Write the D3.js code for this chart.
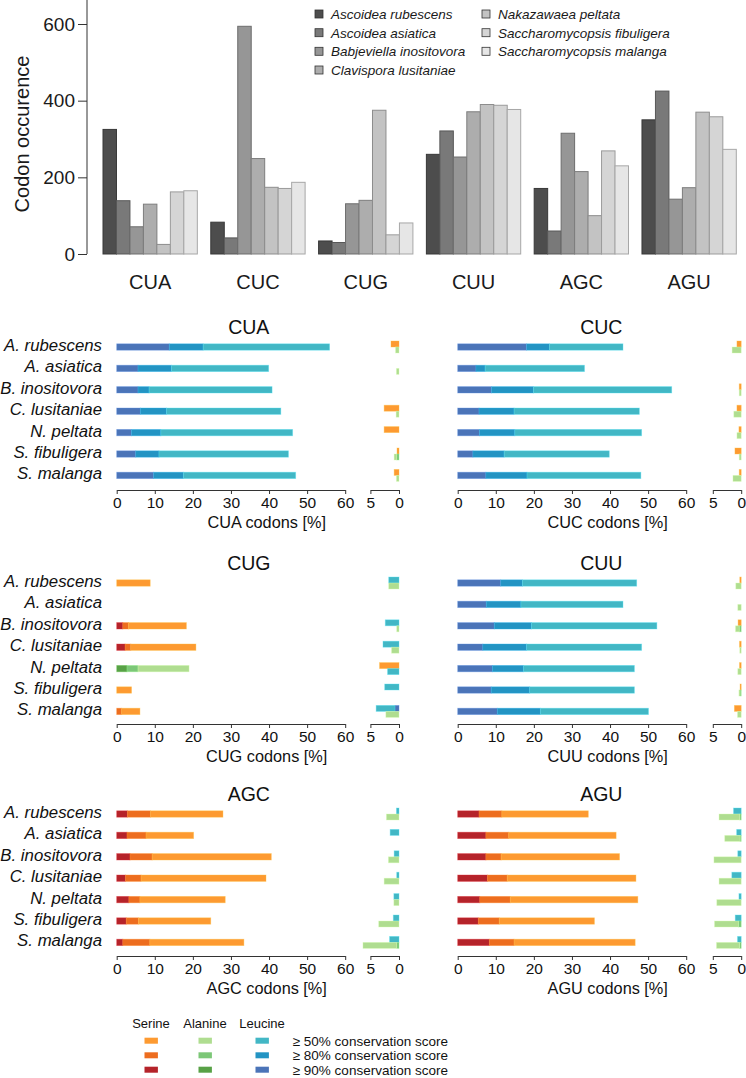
<!DOCTYPE html>
<html>
<head>
<meta charset="utf-8">
<script src="https://cdn.jsdelivr.net/npm/d3@7"></script>
<style>
  html, body { margin: 0; padding: 0; background: #fff; }
  svg { display: block; font-family: "Liberation Sans", Arial, sans-serif; }
</style>
</head>
<body>
<svg id="chart" width="746" height="1078"></svg>
<script>
// ---------------- DATA ----------------
const codons = ["CUA", "CUC", "CUG", "CUU", "AGC", "AGU"];
const speciesFull = ["Ascoidea rubescens", "Ascoidea asiatica", "Babjeviella inositovora",
  "Clavispora lusitaniae", "Nakazawaea peltata", "Saccharomycopsis fibuligera", "Saccharomycopsis malanga"];
const speciesShort = ["A. rubescens", "A. asiatica", "B. inositovora", "C. lusitaniae",
  "N. peltata", "S. fibuligera", "S. malanga"];
const yTicks = [0, 200, 400, 600];

// codon occurrence per species (order of codons)
const occRubescens   = [325,  83,  34, 260, 171, 350];
const occAsiatica    = [139,  42,  30, 321,  60, 425];
const occInositovora = [ 71, 594, 131, 253, 315, 143];
const occLusitaniae  = [130, 249, 140, 371, 215, 173];
const occPeltata     = [ 25, 174, 375, 390, 100, 370];
const occFibuligera  = [162, 171,  50, 388, 269, 358];
const occMalanga     = [165, 187,  81, 377, 230, 273];
const occurrence = [occRubescens, occAsiatica, occInositovora, occLusitaniae, occPeltata, occFibuligera, occMalanga];
const grayFills = ["#4d4d4d", "#797979", "#969696", "#adadad", "#c3c3c3", "#d5d5d5", "#e6e6e6"];

// conservation: each entry [>=90%, >=80%, >=50%] (cumulative % of codons)
const mainAA_CUA = ["Leu","Leu","Leu","Leu","Leu","Leu","Leu"];
const main_CUA = [[13.8,22.7,55.9],[5.6,14.4,39.9],[5.6,8.5,40.8],[6.2,13.1,43.1],[3.9,11.6,46.2],[5.0,11.1,45.1],[9.7,17.5,47.0]];
const top_CUA  = [[0,0,1.4],[0,0,0],[0,0,0],[0,0,2.6],[0,0,2.6],[0,0,0.35],[0,0,0.85]];
const bot_CUA  = [[0,0,0.6],[0,0,0.45],[0,0,0],[0,0,0.5],[0,0,0],[0,0.4,0.85],[0,0,0.45]];

const mainAA_CUC = ["Leu","Leu","Leu","Leu","Leu","Leu","Leu"];
const main_CUC = [[18.1,24.1,43.4],[4.8,7.2,33.3],[8.9,19.9,56.2],[5.6,14.8,47.7],[5.7,15.0,48.3],[4.0,12.2,39.8],[7.4,18.2,48.1]];
const top_CUC  = [[0,0,0.75],[0,0,0],[0,0,0.35],[0,0,0.75],[0,0,0.4],[0,0,1.1],[0,0,0.35]];
const bot_CUC  = [[0,0,1.6],[0,0,0],[0,0,0.35],[0,0,1.3],[0,0,0.75],[0,0,0.35],[0,0,1.45]];

const mainAA_CUG = ["Ser","Ser","Ser","Ser","Ala","Ser","Ser"];
const main_CUG = [[0,0,8.8],[0,0,0],[1.6,3.1,18.3],[2.2,3.7,20.8],[2.7,5.6,19.0],[0,0,3.9],[0,1.3,6.1]];
const top_CUG  = [[0,0,1.8],[0,0,0],[0,0,2.4],[0,0,2.8],[0,0,3.4],[0,0,2.5],[0.7,0.7,4.0]];
const bot_CUG  = [[0,0,1.8],[0,0,0],[0,0,0.4],[0,0,1.3],[0,0,2.0],[0,0,0],[0,0,2.3]];

const mainAA_CUU = ["Leu","Leu","Leu","Leu","Leu","Leu","Leu"];
const main_CUU = [[11.3,17.0,47.0],[7.5,16.6,43.4],[9.6,19.4,52.3],[6.6,18.1,48.3],[9.1,17.3,46.4],[8.8,18.9,46.4],[10.4,21.7,50.1]];
const top_CUU  = [[0,0,0.25],[0,0,0],[0,0,0.55],[0,0,0.3],[0,0,0.3],[0,0,0.2],[0,0,1.2]];
const bot_CUU  = [[0,0,0.95],[0,0,0.6],[0,0.35,1.0],[0,0,0.25],[0,0,0.6],[0,0.2,0.4],[0,0,0.65]];

const mainAA_AGC = ["Ser","Ser","Ser","Ser","Ser","Ser","Ser"];
const main_AGC = [[2.8,8.9,27.9],[2.7,7.7,20.2],[3.5,9.3,40.6],[2.3,6.4,39.2],[3.2,6.1,28.5],[2.5,5.7,24.7],[1.6,8.7,33.4]];
const top_AGC  = [[0,0,0.45],[0,0,1.55],[0,0,0.85],[0,0,0.4],[0,0,0.9],[0,0,1.0],[0,0,1.65]];
const bot_AGC  = [[0,0,2.2],[0,0,0],[0,0,1.85],[0,0,2.6],[0,0,0.9],[0,0,3.55],[0,0.4,6.3]];

const mainAA_AGU = ["Ser","Ser","Ser","Ser","Ser","Ser","Ser"];
const main_AGU = [[5.6,11.6,34.3],[7.4,13.4,41.6],[7.4,11.4,42.5],[7.8,13.0,46.8],[5.8,13.8,47.3],[5.4,10.9,35.9],[8.3,14.8,46.6]];
const top_AGU  = [[0,0,1.35],[0,0,0.8],[0,0,0.6],[0,0,1.65],[0,0,0.4],[0,0,1.05],[0,0,0.65]];
const bot_AGU  = [[0,0.25,3.9],[0,0.2,2.9],[0,0,4.8],[0,0,3.9],[0,0,4.3],[0,0.5,4.7],[0,0.3,4.35]];

const mainTicks = [0, 10, 20, 30, 40, 50, 60];
const smallTicks = [5, 0];
const aaOrder = ["Ser", "Leu", "Ala"];
const aaNames = ["Serine", "Alanine", "Leucine"];
const levelLabels = ["≥ 50% conservation score", "≥ 80% conservation score", "≥ 90% conservation score"];

// colours [>=90, >=80, >=50]
const aaColors = {
  Ser: ["#b5232a", "#ed6d1f", "#fd9a31"],
  Ala: ["#58a146", "#7cc777", "#afdd90"],
  Leu: ["#4b74b8", "#2394c3", "#42b7c5"]
};

// ---------------- DRAW ----------------
const svg = d3.select("#chart");
const FONT = "'Liberation Sans', Arial, sans-serif";

// ---- top grouped bar chart ----
const yOcc = d3.scaleLinear().domain([0, 600]).range([254, 24]);
const xg = d3.scaleBand().domain(codons).range([103, 736.3]).paddingInner(0.125).paddingOuter(0);
const xs = d3.scaleBand().domain(d3.range(speciesFull.length)).range([0, xg.bandwidth()]).padding(0);

const topG = svg.append("g");
codons.forEach((c, ci) => {
  occurrence.forEach((arr, si) => {
    topG.append("rect")
      .attr("x", xg(c) + xs(si))
      .attr("y", yOcc(arr[ci]))
      .attr("width", xs.bandwidth())
      .attr("height", yOcc(0) - yOcc(arr[ci]))
      .attr("fill", grayFills[si])
      .attr("stroke", d3.color(grayFills[si]).darker(0.9))
      .attr("stroke-width", 1);
  });
  topG.append("text")
    .attr("x", xg(c) + xg.bandwidth() / 2)
    .attr("y", 288.5)
    .attr("text-anchor", "middle")
    .attr("font-size", 20)
    .attr("fill", "#1a1a1a")
    .text(c);
});
const yAxis = topG.append("g").attr("transform", "translate(87,0)")
  .call(d3.axisLeft(yOcc).tickValues(yTicks).tickSize(9).tickSizeOuter(0).tickPadding(3));
yAxis.select(".domain").remove();
yAxis.selectAll("line").attr("stroke", "#333");
yAxis.selectAll("text").attr("font-size", 19).attr("font-family", FONT).attr("fill", "#1a1a1a");
topG.append("line").attr("x1", 87).attr("x2", 87).attr("y1", 0).attr("y2", yOcc(0)).attr("stroke", "#333");
topG.append("text")
  .attr("transform", "translate(29,134) rotate(-90)")
  .attr("text-anchor", "middle")
  .attr("font-size", 20)
  .attr("fill", "#1a1a1a")
  .text("Codon occurence");

// top legend
const legPos = [[315, 14], [315, 32.7], [315, 51.3], [315, 70], [482, 14], [482, 32.7], [482, 51.3]];
speciesFull.forEach((s, i) => {
  const [lx, ly] = legPos[i];
  topG.append("rect").attr("x", lx).attr("y", ly - 4).attr("width", 8).attr("height", 8)
    .attr("fill", grayFills[i]).attr("stroke", "#333").attr("stroke-width", 0.8);
  topG.append("text").attr("x", lx + 16).attr("y", ly + 5)
    .attr("font-size", 13.5).attr("font-style", "italic").attr("fill", "#1a1a1a").text(s);
});

// ---- conservation panels ----
const panelData = {
  CUA: [mainAA_CUA, main_CUA, top_CUA, bot_CUA],
  CUC: [mainAA_CUC, main_CUC, top_CUC, bot_CUC],
  CUG: [mainAA_CUG, main_CUG, top_CUG, bot_CUG],
  CUU: [mainAA_CUU, main_CUU, top_CUU, bot_CUU],
  AGC: [mainAA_AGC, main_AGC, top_AGC, bot_AGC],
  AGU: [mainAA_AGU, main_AGU, top_AGU, bot_AGU]
};
const columns = [
  { x0: 116.7, x60: 345.2, s0: 399, s5: 370.4, titleX: 248.8, labels: true },
  { x0: 457.7, x60: 686.2, s0: 741.2, s5: 712.8, titleX: 601.3, labels: false }
];
const rowsTop = [347, 583, 814];
const axisYs = [490, 724, 956];
const rowStep = 21.4;

function drawStack(g, vals, colors, xScale, yTop, h) {
  const bounds = [0, vals[0], vals[1], vals[2]];
  [0, 1, 2].forEach(k => {
    const a = bounds[k], b = bounds[k + 1];
    if (b - a <= 0) return;
    const xa = xScale(a), xb = xScale(b);
    g.append("rect")
      .attr("x", Math.min(xa, xb))
      .attr("y", yTop)
      .attr("width", Math.abs(xb - xa))
      .attr("height", h)
      .attr("fill", colors[k])
      .attr("stroke", d3.color(colors[k]).brighter(0.6))
      .attr("stroke-opacity", 0.45)
      .attr("stroke-width", 0.8);
  });
}

codons.forEach((c, ci) => {
  const col = columns[ci % 2];
  const pr = Math.floor(ci / 2);
  const g = svg.append("g");
  const xm = d3.scaleLinear().domain([0, 60]).range([col.x0, col.x60]);
  const xsm = d3.scaleLinear().domain([0, 5]).range([col.s0, col.s5]);
  const rowY = i => rowsTop[pr] + i * rowStep;
  const [mainAA, mainV, topV, botV] = panelData[c];

  g.append("text").attr("x", col.titleX).attr("y", rowsTop[pr] - 13)
    .attr("text-anchor", "middle").attr("font-size", 19.5).attr("fill", "#111").text(c);

  speciesShort.forEach((s, i) => {
    const cy = rowY(i);
    if (col.labels) {
      g.append("text").attr("x", 102).attr("y", cy + 4)
        .attr("text-anchor", "end").attr("font-size", 16.8).attr("font-style", "italic")
        .attr("fill", "#111").text(s);
    }
    const aa = mainAA[i];
    drawStack(g, mainV[i], aaColors[aa], xm, cy - 3.2, 6.4);
    const others = aaOrder.filter(a => a !== aa);
    drawStack(g, topV[i], aaColors[others[0]], xsm, cy - 6, 6);
    drawStack(g, botV[i], aaColors[others[1]], xsm, cy, 6);
  });

  const ay = axisYs[pr];
  const ax = g.append("g").attr("transform", `translate(0,${ay})`)
    .call(d3.axisBottom(xm).tickValues(mainTicks).tickFormat(d3.format("d")).tickSize(4).tickSizeOuter(0).tickPadding(3));
  const ax2 = g.append("g").attr("transform", `translate(0,${ay})`)
    .call(d3.axisBottom(xsm).tickValues(smallTicks).tickFormat(d3.format("d")).tickSize(4).tickSizeOuter(0).tickPadding(3));
  [ax, ax2].forEach(a => {
    a.select(".domain").attr("stroke", "#333");
    a.selectAll("line").attr("stroke", "#333");
    a.selectAll("text").attr("font-size", 15.5).attr("font-family", FONT).attr("fill", "#111");
  });
  g.append("text").attr("x", col.x0 + 150).attr("y", ay + 38)
    .attr("text-anchor", "middle").attr("font-size", 16.3).attr("fill", "#111")
    .text(c + " codons [%]");
});

// ---- bottom legend ----
const lg = svg.append("g");
const colX = [151, 205, 262];
const legAA = ["Ser", "Ala", "Leu"];
const rowYs = [1040.7, 1055.3, 1069.7];
aaNames.forEach((n, i) => {
  lg.append("text").attr("x", colX[i]).attr("y", 1027.5).attr("text-anchor", "middle")
    .attr("font-size", 13).attr("fill", "#111").text(n);
  [2, 1, 0].forEach((lvl, r) => {
    lg.append("rect").attr("x", colX[i] - 6.5).attr("y", rowYs[r] - 3)
      .attr("width", 13.4).attr("height", 6).attr("fill", aaColors[legAA[i]][lvl]);
  });
});
levelLabels.forEach((t, r) => {
  lg.append("text").attr("x", 292.7).attr("y", rowYs[r] + 5)
    .attr("font-size", 13.5).attr("fill", "#111").text(t);
});
</script>
</body>
</html>
